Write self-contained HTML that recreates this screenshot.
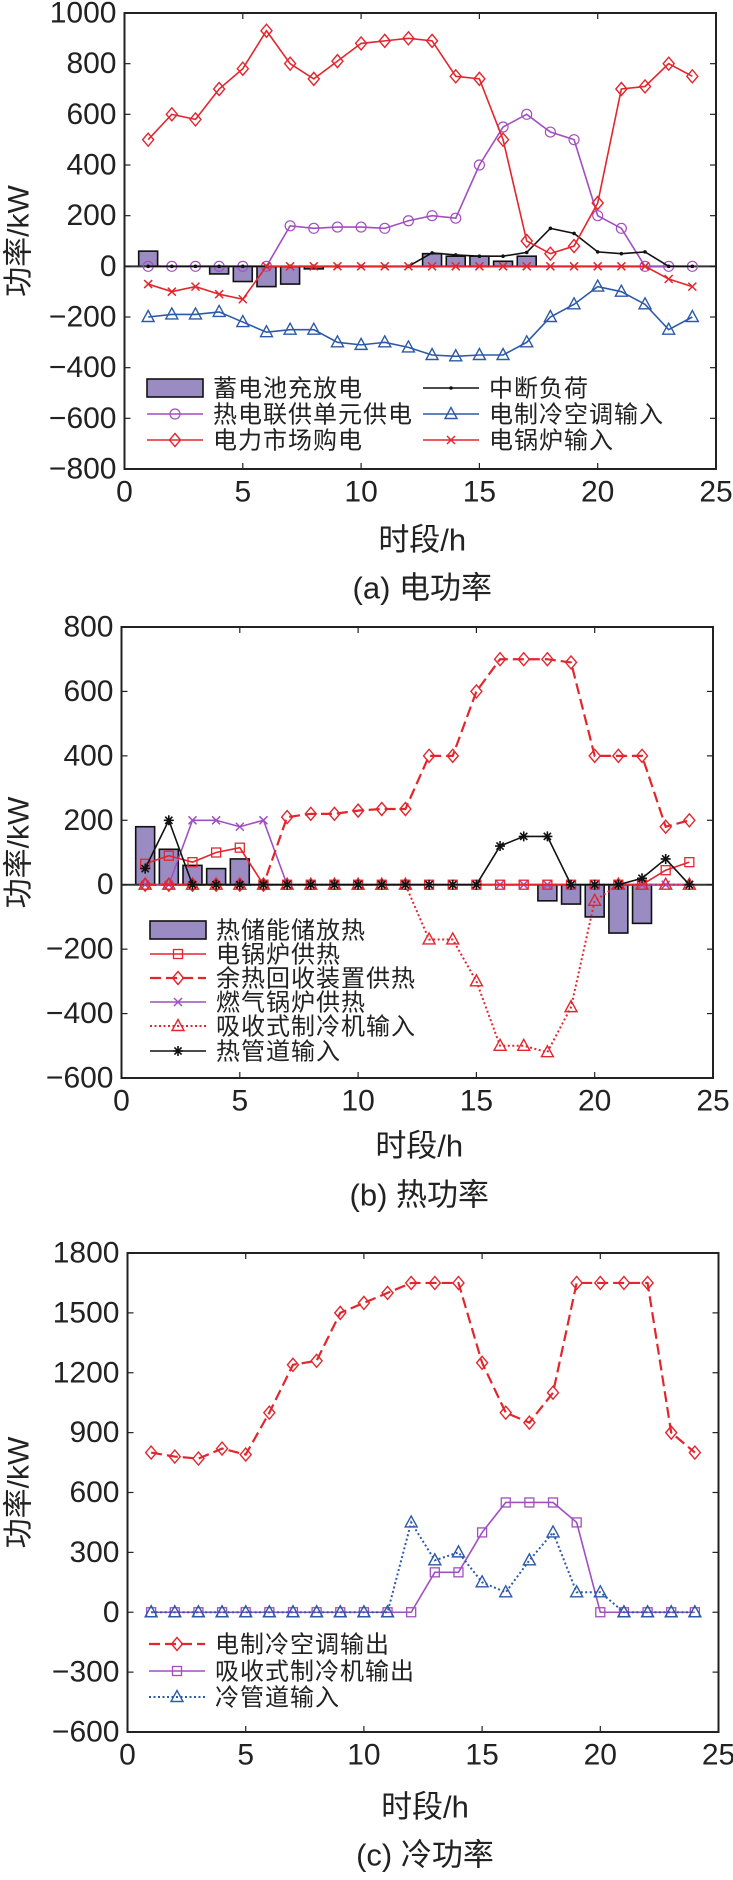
<!DOCTYPE html>
<html><head><meta charset="utf-8">
<style>
html,body{margin:0;padding:0;background:#fff;}
svg{display:block;font-family:"Liberation Sans","Noto Sans CJK SC",sans-serif;}
</style></head>
<body>
<svg id="fig" width="733" height="1880" viewBox="0 0 733 1880" xmlns="http://www.w3.org/2000/svg"></svg>
<script>
const hours = [1,2,3,4,5,6,7,8,9,10,11,12,13,14,15,16,17,18,19,20,21,22,23,24];
// Chart (a) electric power
const aBattery = [60,0,0,-30,-60,-80,-70,-10,0,0,0,0,50,40,40,20,40,0,0,0,0,0,0,0];
const aCHP = [0,0,0,0,0,0,160,150,155,155,150,180,200,190,400,550,600,530,500,200,150,0,0,0];
const aMarket = [500,600,580,700,780,930,800,740,810,880,890,900,890,750,740,500,100,50,80,250,700,710,800,750];
const aInterrupt = [0,0,0,0,0,0,0,0,0,0,0,0,53,45,40,40,55,150,130,57,50,57,0,0];
const aChiller = [-200,-190,-190,-180,-220,-260,-250,-250,-300,-310,-300,-320,-350,-355,-350,-350,-300,-200,-150,-80,-100,-150,-250,-200];
const aEBoiler = [-70,-100,-80,-110,-130,0,0,0,0,0,0,0,0,0,0,0,0,0,0,0,0,0,-50,-80];
const aYTicks = [1000,800,600,400,200,0,-200,-400,-600,-800];
// Chart (b) heat power
const bStorage = [180,110,60,50,80,0,0,0,0,0,0,0,0,0,0,0,0,-50,-60,-100,-150,-120,0,0];
const bEBoiler = [65,90,70,100,115,0,0,0,0,0,0,0,0,0,0,0,0,0,0,0,0,0,45,70];
const bWaste = [0,0,0,0,0,0,210,220,220,230,235,235,400,400,600,700,700,700,690,400,400,400,180,200];
const bGas = [0,0,200,200,180,200,0,0,0,0,0,0,0,0,0,0,0,0,0,0,0,0,0,0];
const bAbsorb = [0,0,0,0,0,0,0,0,0,0,0,0,-170,-170,-300,-500,-500,-520,-380,-50,0,0,0,0];
const bPipe = [50,200,0,0,0,0,0,0,0,0,0,0,0,0,0,120,150,150,0,0,0,20,80,0];
const bYTicks = [800,600,400,200,0,-200,-400,-600];
// Chart (c) cooling power
const cAC = [800,780,770,820,790,1000,1240,1260,1500,1550,1600,1650,1650,1650,1250,1000,950,1100,1650,1650,1650,1650,900,800];
const cAbsorb = [0,0,0,0,0,0,0,0,0,0,0,0,200,200,400,550,550,550,450,0,0,0,0,0];
const cPipe = [0,0,0,0,0,0,0,0,0,0,0,450,260,300,150,100,260,400,100,100,0,0,0,0];
const cYTicks = [1800,1500,1200,900,600,300,0,-300,-600];
const xTicks = [0,5,10,15,20,25];

const NS = "http://www.w3.org/2000/svg";
const fig = document.getElementById('fig');
const RED = "#e3262d", PURPLE = "#a04fc0", BLUE = "#2c5aa8", BAR = "#9a8cc2";
function mk(tag, attrs, parent){
  const e = document.createElementNS(NS, tag);
  for (const k in attrs) e.setAttribute(k, attrs[k]);
  (parent||fig).appendChild(e);
  return e;
}
function marker(g, type, x, y, color){
  let m;
  if (type==='diamond') m = mk('polygon',{points:`${x},${y-6.5} ${x+5.5},${y} ${x},${y+6.5} ${x-5.5},${y}`,fill:'#fff','fill-opacity':0,stroke:color,'stroke-width':1.4},g);
  else if (type==='circle') m = mk('circle',{cx:x,cy:y,r:5,fill:'none',stroke:color,'stroke-width':1.2},g);
  else if (type==='triangle') m = mk('polygon',{points:`${x},${y-6.5} ${x+6},${y+4.5} ${x-6},${y+4.5}`,fill:'none',stroke:color,'stroke-width':1.4},g);
  else if (type==='square') m = mk('rect',{x:x-4.5,y:y-4.5,width:9,height:9,fill:'none',stroke:color,'stroke-width':1.3},g);
  else if (type==='x') m = mk('path',{d:`M${x-4},${y-4}L${x+4},${y+4}M${x-4},${y+4}L${x+4},${y-4}`,stroke:color,'stroke-width':1.5},g);
  else if (type==='dot') m = mk('circle',{cx:x,cy:y,r:1.8,fill:color},g);
  else if (type==='star') m = mk('path',{d:`M${x-5},${y}L${x+5},${y}M${x},${y-5}L${x},${y+5}M${x-3.6},${y-3.6}L${x+3.6},${y+3.6}M${x-3.6},${y+3.6}L${x+3.6},${y-3.6}`,stroke:color,'stroke-width':1.6},g);
  
  
  return m;
}
function dashOf(s){ return s==='dash' ? '11,5' : s==='dot' ? '2,2.5' : 'none'; }

function chart(cfg){
  const {L,R,T,B,ymax,ymin,name} = cfg;
  const g = mk('g',{});
  
  
  const sx = v => L + (v-0)/(25-0)*(R-L);
  const sy = v => T + (ymax-v)/(ymax-ymin)*(B-T);
  if (cfg.bars){
    cfg.bars.forEach((v,i)=>{
      if (v===0) return;
      const x = sx(hours[i]), w = 0.8/25*(R-L);
      const y0 = sy(0), y1 = sy(v);
      const r = mk('rect',{x:x-w/2,y:Math.min(y0,y1),width:w,height:Math.abs(y1-y0),fill:BAR,stroke:'#111','stroke-width':1.6},g);
      
      
    });
  }
  if (cfg.zeroLine){
    const z = mk('line',{x1:L,x2:R,y1:sy(0),y2:sy(0),stroke:'#333','stroke-width':2},g);
    
    
  }
  cfg.series.forEach(s=>{
    const sg = mk('g',{},g);
    
    
    const pts = s.data.map((v,i)=>`${sx(hours[i])},${sy(v)}`).join(' ');
    mk('polyline',{points:pts,fill:'none',stroke:s.color,'stroke-width':s.w||1.6,'stroke-dasharray':dashOf(s.style)},sg);
    s.data.forEach((v,i)=>marker(sg,s.marker,sx(hours[i]),sy(v),s.color));
  });
  const f = mk('rect',{x:L,y:T,width:R-L,height:B-T,fill:'none',stroke:'#222','stroke-width':2},g);
  
  
  xTicks.forEach(t=>{
    const x = sx(t);
    mk('line',{x1:x,x2:x,y1:B,y2:B-6,stroke:'#222','stroke-width':1.2},g);
    mk('line',{x1:x,x2:x,y1:T,y2:T+6,stroke:'#222','stroke-width':1.2},g);
    const tx = mk('text',{x:x,y:B+23,'text-anchor':'middle','dominant-baseline':'central','font-size':30,fill:'#222'},g);
    tx.textContent = t;
    
    
  });
  cfg.yTicks.forEach(t=>{
    const y = sy(t);
    mk('line',{x1:L,x2:L+6,y1:y,y2:y,stroke:'#222','stroke-width':1.2},g);
    mk('line',{x1:R,x2:R-6,y1:y,y2:y,stroke:'#222','stroke-width':1.2},g);
    const ty = mk('text',{x:L-8,y:y,'text-anchor':'end','dominant-baseline':'central','font-size':30,fill:'#222'},g);
    ty.textContent = t<0 ? '\u2212'+(-t) : t;
    
    
  });
  const yt = mk('text',{x:0,y:0,transform:`translate(19,${(T+B)/2}) rotate(-90)`,'text-anchor':'middle','dominant-baseline':'central','font-size':30,fill:'#222'},g);
  yt.textContent = '功率/kW';
  
  
  const xt = mk('text',{x:(L+R)/2+2,y:cfg.xlabY,'text-anchor':'middle','dominant-baseline':'central','font-size':31,fill:'#222'},g);
  xt.textContent = '时段/h';
  
  
  const cp = mk('text',{x:(L+R)/2+2,y:cfg.capY,'text-anchor':'middle','dominant-baseline':'central','font-size':31,fill:'#222'},g);
  cp.textContent = cfg.caption;
  
  
  cfg.legend.forEach(e=>{
    const lg = mk('g',{},g);
    
    
    const x0 = e.x, y = e.y;
    if (e.bar){
      mk('rect',{x:x0,y:y-9,width:56,height:18,fill:BAR,stroke:'#111','stroke-width':1.6},lg);
    } else {
      mk('line',{x1:x0,x2:x0+56,y1:y,y2:y,stroke:e.color,'stroke-width':e.w||1.6,'stroke-dasharray':dashOf(e.style)},lg);
      marker(lg,e.marker,x0+28,y,e.color);
    }
    const t = mk('text',{x:x0+66,y:y+1,'dominant-baseline':'central','font-size':24,'letter-spacing':1,fill:'#222'},lg);
    t.textContent = e.label;
  });
}

chart({name:'chart-electric-power',L:124.5,R:716,T:13,B:469,ymax:1000,ymin:-800,yTicks:aYTicks,zeroLine:true,
  xlabY:540,capY:588,caption:'(a) 电功率',bars:aBattery,
  series:[
    {name:'series-chp-power',data:aCHP,color:PURPLE,marker:'circle'},
    {name:'series-interruptible-load',data:aInterrupt,color:'#111',marker:'dot'},
    {name:'series-electric-chiller-input',data:aChiller,color:BLUE,marker:'triangle'},
    {name:'series-electric-boiler-input',data:aEBoiler,color:RED,marker:'x'},
    {name:'series-market-purchase',data:aMarket,color:RED,marker:'diamond'}
  ],
  legend:[
    {x:147,y:388,bar:true,label:'蓄电池充放电'},
    {x:147,y:414,color:PURPLE,marker:'circle',label:'热电联供单元供电'},
    {x:147,y:440,color:RED,marker:'diamond',label:'电力市场购电'},
    {x:423,y:388,color:'#111',marker:'dot',label:'中断负荷'},
    {x:423,y:414,color:BLUE,marker:'triangle',label:'电制冷空调输入'},
    {x:423,y:440,color:RED,marker:'x',label:'电锅炉输入'}
  ]});

chart({name:'chart-heat-power',L:121.5,R:713,T:627,B:1078,ymax:800,ymin:-600,yTicks:bYTicks,zeroLine:true,
  xlabY:1146,capY:1195,caption:'(b) 热功率',bars:bStorage,
  series:[
    {name:'series-gas-boiler-heat',data:bGas,color:PURPLE,marker:'x'},
    {name:'series-electric-boiler-heat',data:bEBoiler,color:RED,marker:'square'},
    {name:'series-waste-heat-recovery',data:bWaste,color:RED,marker:'diamond',style:'dash',w:2.2},
    {name:'series-absorption-chiller-input',data:bAbsorb,color:RED,marker:'triangle',style:'dot',w:2},
    {name:'series-heat-pipe-input',data:bPipe,color:'#111',marker:'star'}
  ],
  legend:[
    {x:150,y:930,bar:true,label:'热储能储放热'},
    {x:150,y:954,color:RED,marker:'square',label:'电锅炉供热'},
    {x:150,y:978,color:RED,marker:'diamond',style:'dash',w:2.2,label:'余热回收装置供热'},
    {x:150,y:1002,color:PURPLE,marker:'x',label:'燃气锅炉供热'},
    {x:150,y:1026,color:RED,marker:'triangle',style:'dot',w:2,label:'吸收式制冷机输入'},
    {x:150,y:1051,color:'#111',marker:'star',label:'热管道输入'}
  ]});

chart({name:'chart-cooling-power',L:127.5,R:718.5,T:1253,B:1732,ymax:1800,ymin:-600,yTicks:cYTicks,zeroLine:false,
  xlabY:1807,capY:1855,caption:'(c) 冷功率',
  series:[
    {name:'series-absorption-chiller-output',data:cAbsorb,color:PURPLE,marker:'square'},
    {name:'series-cold-pipe-input',data:cPipe,color:BLUE,marker:'triangle',style:'dot',w:2},
    {name:'series-electric-ac-output',data:cAC,color:RED,marker:'diamond',style:'dash',w:2.2}
  ],
  legend:[
    {x:149,y:1644,color:RED,marker:'diamond',style:'dash',w:2.2,label:'电制冷空调输出'},
    {x:149,y:1671,color:PURPLE,marker:'square',label:'吸收式制冷机输出'},
    {x:149,y:1697,color:BLUE,marker:'triangle',style:'dot',w:2,label:'冷管道输入'}
  ]});
</script>
</body></html>
